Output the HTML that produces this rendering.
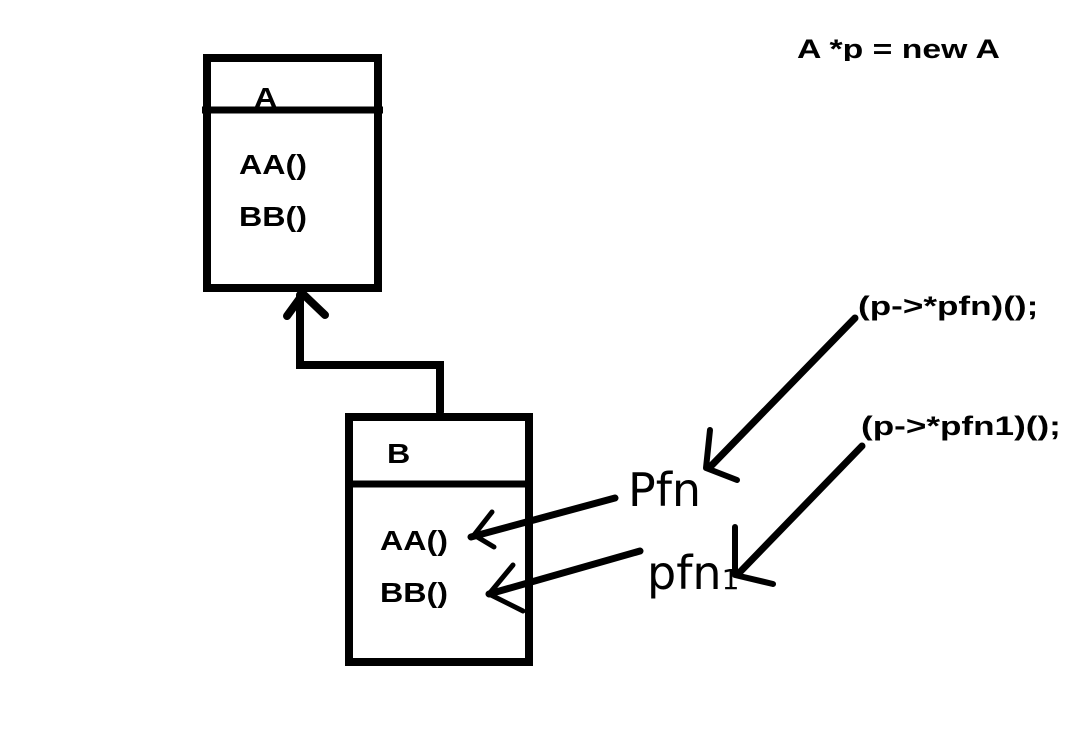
<!DOCTYPE html>
<html><head><meta charset="utf-8"><style>
html,body{margin:0;padding:0;background:#fff;}
body{width:1070px;height:755px;position:relative;overflow:hidden;font-family:"Liberation Sans",sans-serif;}
.t{position:absolute;font-weight:bold;font-size:28px;line-height:1;color:#000;white-space:nowrap;transform-origin:0 0;}
.s{transform:scaleX(1.15);}
.w{transform:scaleX(1.3);}
.h{position:absolute;font-size:46px;line-height:1;color:#000;font-family:"DejaVu Sans",sans-serif;font-weight:normal;}
</style></head><body>
<svg width="1070" height="755" style="position:absolute;left:0;top:0" fill="none" stroke="#000" stroke-linecap="round" stroke-linejoin="round">
<rect x="207" y="58" width="171" height="230" stroke-width="8" stroke-linecap="butt" stroke-linejoin="miter"/>
<line x1="202" y1="110" x2="383" y2="110" stroke-width="7" stroke-linecap="butt"/>
<rect x="349" y="417" width="180" height="245" stroke-width="8" stroke-linecap="butt" stroke-linejoin="miter"/>
<line x1="349" y1="484" x2="529" y2="484" stroke-width="7" stroke-linecap="butt"/>
<polyline points="440,412 440,365 300,365 300,295" stroke-width="8" stroke-linejoin="miter"/>
<polyline points="287,316 303,294 325,315" stroke-width="8"/>
<line x1="615" y1="498" x2="471" y2="537" stroke-width="7"/>
<polyline points="492,512 474,535 494,547" stroke-width="5"/>
<line x1="640" y1="551" x2="489" y2="594" stroke-width="7"/>
<polyline points="513,565 489,594 523,611" stroke-width="5"/>
<line x1="855" y1="318" x2="712" y2="465" stroke-width="7"/>
<polyline points="710,430 706,468 737,480" stroke-width="6"/>
<line x1="862" y1="446" x2="740" y2="572" stroke-width="7"/>
<polyline points="735,527 735,575 773,584" stroke-width="6"/>
</svg>
<div class="t s" style="left:254px;top:84px;">A</div>
<div class="t s" style="left:239px;top:151px;">AA()</div>
<div class="t s" style="left:239px;top:203px;">BB()</div>
<div class="t s" style="left:387px;top:440px;">B</div>
<div class="t s" style="left:380px;top:527px;">AA()</div>
<div class="t s" style="left:380px;top:579px;">BB()</div>
<div style="position:absolute;left:797px;top:36px;width:260px;height:25px;overflow:hidden;"><div class="t" style="left:0;top:0;font-size:27px;transform:scaleX(1.25);">A *p = new A</div></div>
<div class="t w" style="left:858px;top:293px;font-size:27px;">(p-&gt;*pfn)();</div>
<div class="t w" style="left:861px;top:413px;font-size:27px;">(p-&gt;*pfn1)();</div>
<div class="h" style="left:628px;top:467px;">Pfn</div>
<div class="h" style="left:647px;top:550px;">pfn<span style="font-size:28px">1</span></div>
</body></html>
